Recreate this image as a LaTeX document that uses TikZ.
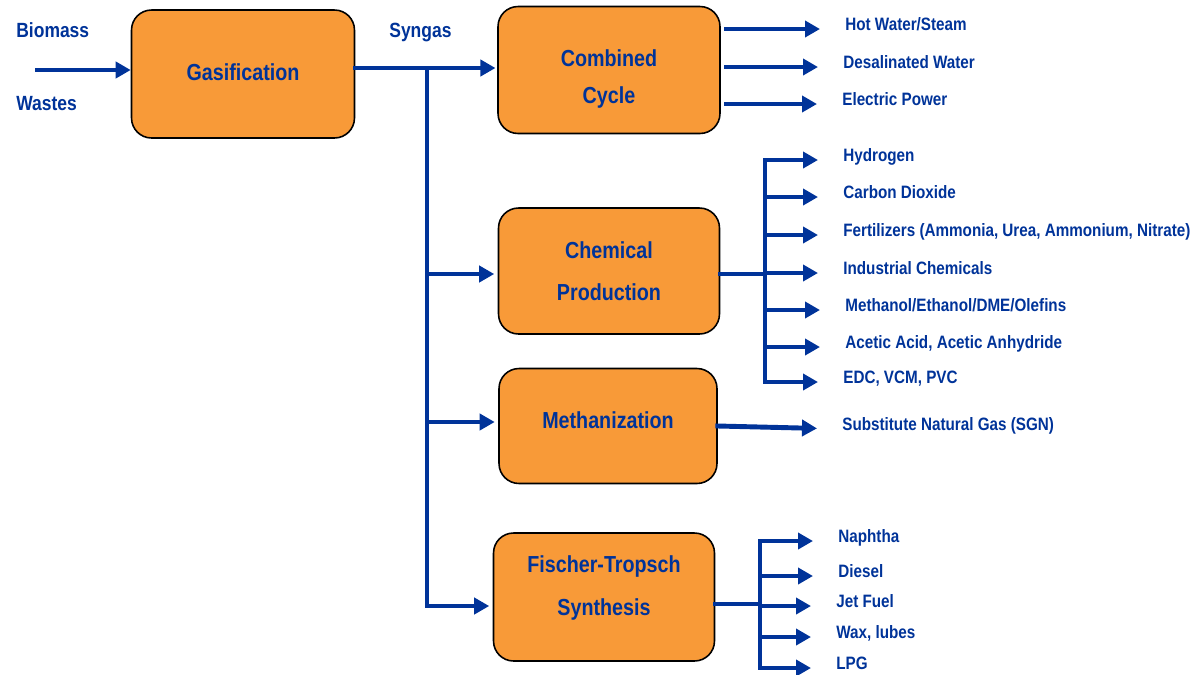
\documentclass[tikz,border=0pt]{standalone}
\usepackage{fontspec}
\setmainfont{Liberation Sans}[FakeStretch=0.85]
\usetikzlibrary{arrows.meta}
\definecolor{flowblue}{RGB}{0,51,153}
\definecolor{unitorange}{RGB}{248,154,56}
\tikzset{
  unit/.style={draw=black, line width=0.9pt, fill=unitorange, rounded corners=0.4cm},
  unittext/.style={text=flowblue, align=center, inner sep=0pt,
    font=\bfseries\fontsize{13.2}{24}\selectfont},
  stream/.style={anchor=west, inner sep=0pt, text height=0.72em, text depth=0.6em,
    text=flowblue, font=\bfseries\fontsize{10.2}{12}\selectfont},
  feedtext/.style={stream, font=\bfseries\fontsize{11.7}{13}\selectfont},
  flow/.style={draw=flowblue, line width=2.8pt, line cap=rect},
  flowarrow/.style={flow, -{Triangle[length=0.3cm,width=0.32cm]}},
  outarrow/.style={flowarrow, shorten >=0.5cm},
}
\begin{document}
\begin{tikzpicture}[x=0.02cm, y=-0.02cm]
\useasboundingbox (0,0) rectangle (1204,674);

% process units
\node[unit, minimum width=4.46cm, minimum height=2.56cm] (gas) at (243,74) {};
\node[unit, minimum width=4.44cm, minimum height=2.54cm] (cc) at (609,70) {};
\node[unit, minimum width=4.42cm, minimum height=2.52cm] (chem) at (609,271) {};
\node[unit, minimum width=4.36cm, minimum height=2.30cm] (meth) at (608,426) {};
\node[unit, minimum width=4.42cm, minimum height=2.56cm] (ft) at (604,597) {};
\node[unittext] (gastext) at (243,72) {Gasification};
\node[unittext, font=\bfseries\fontsize{13.2}{21.5}\selectfont] (cctext) at (609,79) {Combined\\Cycle};
\node[unittext] (chemtext) at (609,271) {Chemical\\Production};
\node[unittext] (methtext) at (608,420) {Methanization};
\node[unittext] (fttext) at (604,588) {Fischer-Tropsch\\Synthesis};

% feed and syngas
\node[feedtext] (biomass) at (16,36) {Biomass};
\node[feedtext] (wastes) at (16,109) {Wastes};
\node[feedtext] (syngas) at (389,36) {Syngas};

% combined cycle products
\node[stream] (steam) at (845,29) {Hot Water/Steam};
\node[stream] (water) at (843,67) {Desalinated Water};
\node[stream] (power) at (842,104) {Electric Power};

% chemical products
\node[stream] (h2) at (843,160) {Hydrogen};
\node[stream] (co2) at (843,197) {Carbon Dioxide};
\node[stream] (fert) at (843,235) {Fertilizers (Ammonia, Urea, Ammonium, Nitrate)};
\node[stream] (indchem) at (843,273) {Industrial Chemicals};
\node[stream] (alcohols) at (845,310) {Methanol/Ethanol/DME/Olefins};
\node[stream] (acetic) at (845,347) {Acetic Acid, Acetic Anhydride};
\node[stream] (pvc) at (843,382) {EDC, VCM, PVC};

% methanization product
\node[stream] (sng) at (842,429) {Substitute Natural Gas (SGN)};

% FT products
\node[stream] (naphtha) at (838,541) {Naphtha};
\node[stream] (diesel) at (838,576) {Diesel};
\node[stream] (jet) at (836,606) {Jet Fuel};
\node[stream] (wax) at (836,637) {Wax, lubes};
\node[stream] (lpg) at (836,668) {LPG};

% junctions
\coordinate (feed) at (37,70);
\coordinate (split) at (427,68);
\coordinate (tochem) at (427,274);
\coordinate (tometh) at (427,422);
\coordinate (toft) at (427,606);
\coordinate (chemtrunk) at (765,274);
\coordinate (fttrunk) at (760,604);

\draw[flowarrow] (feed) -- (feed -| gas.west);
\draw[flow] (split -| gas.east) -- (split);
\draw[flowarrow, shorten >=1pt] (split) -- (split -| cc.west);
\draw[flow] (split) -- (toft);
\draw[flowarrow, shorten >=2pt] (tochem) -- (tochem -| chem.west);
\draw[flowarrow, shorten >=2pt] (tometh) -- (tometh -| meth.west);
\draw[flowarrow, shorten >=2pt] (toft) -- (toft -| ft.west);

\draw[outarrow, shorten <=3pt] (cc.east |- steam) -- (steam.west);
\draw[outarrow, shorten <=3pt] (cc.east |- water) -- (water.west);
\draw[outarrow, shorten <=3pt] (cc.east |- power) -- (power.west);

\draw[flow] (chemtrunk -| chem.east) -- (chemtrunk);
\draw[flow] (chemtrunk |- h2) -- (chemtrunk |- pvc);
\draw[outarrow] (chemtrunk |- h2) -- (h2.west);
\draw[outarrow] (chemtrunk |- co2) -- (co2.west);
\draw[outarrow] (chemtrunk |- fert) -- (fert.west);
\draw[outarrow] (chemtrunk |- indchem) -- (indchem.west);
\draw[outarrow] (chemtrunk |- alcohols) -- (alcohols.west);
\draw[outarrow] (chemtrunk |- acetic) -- (acetic.west);
\draw[outarrow] (chemtrunk |- pvc) -- (pvc.west);

\draw[outarrow] (meth.east) -- (sng.west);

\draw[flow] (fttrunk -| ft.east) -- (fttrunk);
\draw[flow] (fttrunk |- naphtha) -- (fttrunk |- lpg);
\draw[outarrow] (fttrunk |- naphtha) -- (naphtha.west);
\draw[outarrow] (fttrunk |- diesel) -- (diesel.west);
\draw[outarrow] (fttrunk |- jet) -- (jet.west);
\draw[outarrow] (fttrunk |- wax) -- (wax.west);
\draw[outarrow] (fttrunk |- lpg) -- (lpg.west);
\end{tikzpicture}
\end{document}
